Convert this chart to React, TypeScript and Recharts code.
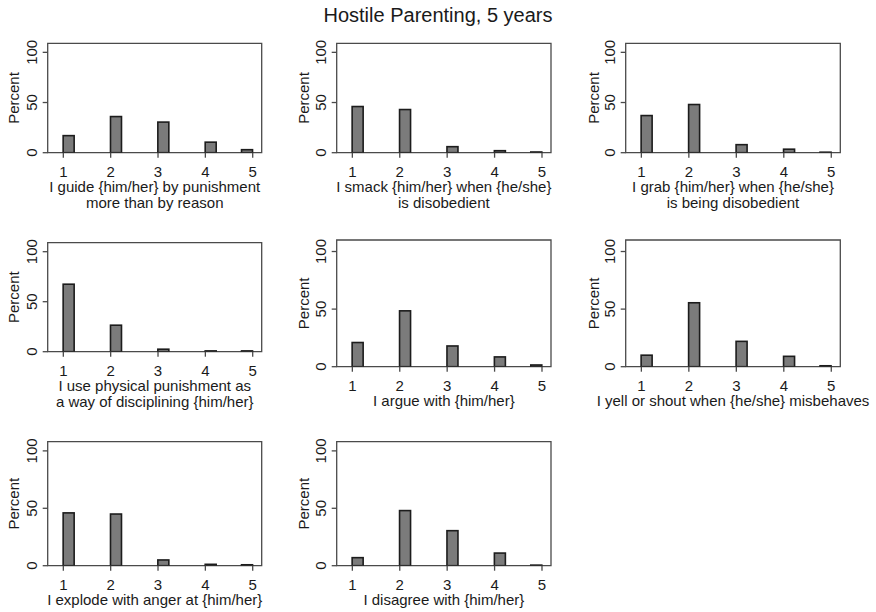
import React from 'react';
import { BarChart, Bar, XAxis, YAxis, ReferenceArea } from 'recharts';

const categories = [1, 2, 3, 4, 5];
const yTicks = [0, 50, 100];
const chartTitle = 'Hostile Parenting, 5 years';
const yLabel = 'Percent';

const guidePct = [17, 36, 30.5, 10.5, 3];
const smackPct = [46, 43, 6, 2, 0.7];
const grabPct = [37, 48, 8, 3.5, 0.5];
const physicalPct = [67.5, 26.5, 2.5, 0.8, 0.8];
const arguePct = [21, 48.5, 18, 8.5, 1.5];
const yellPct = [10, 55.5, 22, 9, 0.8];
const explodePct = [46, 45, 5, 1.2, 0.8];
const disagreePct = [7, 48, 30.5, 11, 0.5];

const guideLabel = ['I guide {him/her} by punishment', 'more than by reason'];
const smackLabel = ['I smack {him/her} when {he/she}', 'is disobedient'];
const grabLabel = ['I grab {him/her} when {he/she}', 'is being disobedient'];
const physicalLabel = ['I use physical punishment as', 'a way of disciplining {him/her}'];
const argueLabel = ['I argue with {him/her}'];
const yellLabel = ['I yell or shout when {he/she} misbehaves'];
const explodeLabel = ['I explode with anger at {him/her}'];
const disagreeLabel = ['I disagree with {him/her}'];

const FONT = '"Liberation Sans", Arial, sans-serif';
const TEXT = '#1a1a1a';
const LINE = '#4a4a4a';
const X_MIN = 0.67;
const X_MAX = 5.19;

const panels = [
  { values: guidePct, label: guideLabel, cell: { L: 0, T: 25, W: 290, H: 195 }, box: { x0: 47.7, x1: 261.7, y0: 43.3, y1: 152.7 }, yMax: 109 },
  { values: smackPct, label: smackLabel, cell: { L: 290, T: 25, W: 290, H: 195 }, box: { x0: 336.7, x1: 551, y0: 43.3, y1: 152.7 }, yMax: 109 },
  { values: grabPct, label: grabLabel, cell: { L: 580, T: 25, W: 296, H: 195 }, box: { x0: 625.7, x1: 840.3, y0: 43.3, y1: 152.7 }, yMax: 109 },
  { values: physicalPct, label: physicalLabel, cell: { L: 0, T: 222, W: 290, H: 195 }, box: { x0: 47.7, x1: 261.7, y0: 242.7, y1: 351.7 }, yMax: 109 },
  { values: arguePct, label: argueLabel, cell: { L: 290, T: 222, W: 290, H: 195 }, box: { x0: 336.7, x1: 551, y0: 240, y1: 366.7 }, yMax: 110 },
  { values: yellPct, label: yellLabel, cell: { L: 580, T: 222, W: 296, H: 195 }, box: { x0: 625.7, x1: 840.3, y0: 240, y1: 366.7 }, yMax: 110 },
  { values: explodePct, label: explodeLabel, cell: { L: 0, T: 420, W: 290, H: 192 }, box: { x0: 47.7, x1: 261.7, y0: 441.7, y1: 565.7 }, yMax: 108 },
  { values: disagreePct, label: disagreeLabel, cell: { L: 290, T: 420, W: 290, H: 192 }, box: { x0: 336.7, x1: 551, y0: 441.7, y1: 565.7 }, yMax: 108 },
];

const ShiftedBar = (props: any) => {
  const { x, y, width, height, payload } = props;
  if (height == null || width == null) return null;
  const last = payload && payload.cat === categories[categories.length - 1];
  const dx = last ? -width / 2 : width / 2;
  return (
    <rect
      x={x + dx}
      y={y}
      width={width}
      height={height}
      fill="#7b7b7b"
      stroke="#1c1c1c"
      strokeWidth={1.6}
    />
  );
};

const YTick = (props: any) => {
  const { x, y, payload } = props;
  return (
    <g transform={`translate(${x},${y})`}>
      <text
        transform="rotate(-90)"
        textAnchor="middle"
        x={0}
        y={0}
        fontSize={15}
        fontFamily={FONT}
        fill={TEXT}
      >
        {payload.value}
      </text>
    </g>
  );
};

const Panel = ({ p }: { p: any }) => {
  const { cell, box, values, label, yMax } = p;
  const data = categories.map((c, i) => ({ cat: c, pct: values[i] }));
  const yAxisW = box.x0 - cell.L;
  const xAxisH = cell.T + cell.H - box.y1;
  return (
    <div style={{ position: 'absolute', left: cell.L, top: cell.T, width: cell.W, height: cell.H }}>
      <BarChart
        width={cell.W}
        height={cell.H}
        data={data}
        margin={{ top: box.y0 - cell.T, right: cell.L + cell.W - box.x1, left: 0, bottom: 0 }}
        style={{ overflow: 'visible' }}
      >
        <XAxis
          dataKey="cat"
          type="number"
          domain={[X_MIN, X_MAX]}
          allowDataOverflow
          ticks={categories}
          interval={0}
          height={xAxisH}
          axisLine={false}
          tickLine={{ stroke: LINE, strokeWidth: 1.3 }}
          tickSize={5}
          tickMargin={8.5}
          tick={{ fontSize: 15, fontFamily: FONT, fill: TEXT }}
          label={{
            content: (lp: any) => {
              const vb = lp.viewBox || {};
              const cx = (vb.x || 0) + (vb.width || 0) / 2;
              const top = vb.y || 0;
              return (
                <text textAnchor="middle" fontSize={15} fontFamily={FONT} fill={TEXT}>
                  {label.map((line: string, i: number) => (
                    <tspan key={i} x={cx} y={top + 39.5 + i * 16}>
                      {line}
                    </tspan>
                  ))}
                </text>
              );
            },
          }}
        />
        <YAxis
          type="number"
          domain={[0, yMax]}
          allowDataOverflow
          ticks={yTicks}
          interval={0}
          width={yAxisW}
          axisLine={false}
          tickLine={{ stroke: LINE, strokeWidth: 1.3 }}
          tickSize={5}
          tickMargin={5.5}
          tick={<YTick />}
          label={{
            content: (lp: any) => {
              const vb = lp.viewBox || {};
              const cy = (vb.y || 0) + (vb.height || 0) / 2;
              const x = (vb.x || 0) + 18.5;
              return (
                <text
                  transform={`translate(${x},${cy}) rotate(-90)`}
                  textAnchor="middle"
                  fontSize={15}
                  fontFamily={FONT}
                  fill={TEXT}
                >
                  {yLabel}
                </text>
              );
            },
          }}
        />
        <ReferenceArea
          x1={X_MIN}
          x2={X_MAX}
          y1={0}
          y2={yMax}
          fill="none"
          fillOpacity={0}
          stroke={LINE}
          strokeWidth={1.3}
          ifOverflow="visible"
        />
        <Bar dataKey="pct" barSize={11} isAnimationActive={false} shape={<ShiftedBar />} />
      </BarChart>
    </div>
  );
};

export default function App() {
  return (
    <div
      style={{
        position: 'absolute',
        left: 0,
        top: 0,
        width: 876,
        height: 612,
        background: '#ffffff',
        fontFamily: FONT,
        overflow: 'hidden',
      }}
    >
      <div
        style={{
          position: 'absolute',
          left: 0,
          top: 4,
          width: 876,
          height: 22,
          lineHeight: '22px',
          textAlign: 'center',
          fontSize: 20,
          color: TEXT,
        }}
      >
        {chartTitle}
      </div>
      {panels.map((p, i) => (
        <Panel key={i} p={p} />
      ))}
    </div>
  );
}
